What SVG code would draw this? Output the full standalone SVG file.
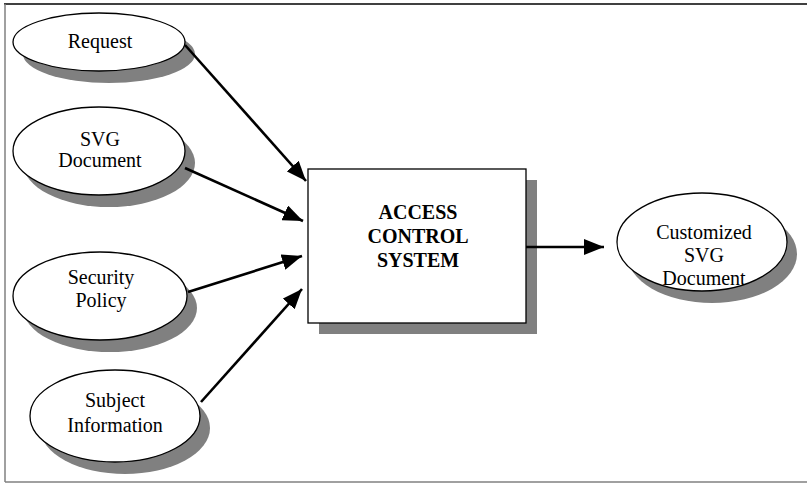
<svg xmlns="http://www.w3.org/2000/svg" width="807" height="483" viewBox="0 0 807 483">
  <defs>
    <style>
      .shadow { fill: #808080; stroke: none; }
      .node { fill: #ffffff; stroke: #000000; stroke-width: 1.3; }
      .label { font-family: "Liberation Serif", "Times New Roman", serif; font-size: 20px; fill: #000000; text-anchor: middle; }
      .bold { font-weight: bold; }
      .edge { stroke: #000000; stroke-width: 2.6; fill: none; marker-end: url(#arrow); }
    </style>
    <marker id="arrow" viewBox="0 0 20 16" refX="20" refY="8" markerWidth="20" markerHeight="16" markerUnits="userSpaceOnUse" orient="auto">
      <path d="M0,0 L20,8 L0,16 Z" fill="#000000"/>
    </marker>
  </defs>

  <rect x="0" y="0" width="807" height="483" fill="#ffffff"/>

  <!-- frame -->
  <g id="frame">
    <line x1="4" y1="4" x2="807" y2="4" stroke="#000000" stroke-width="1.5"/>
    <line x1="5" y1="4" x2="5" y2="482" stroke="#808080" stroke-width="1.5"/>
    <line x1="5" y1="482" x2="807" y2="482" stroke="#808080" stroke-width="1.5"/>
  </g>

  <!-- inputs -->
  <g id="request">
    <ellipse class="shadow" cx="109" cy="54" rx="86" ry="29"/>
    <ellipse class="node" cx="99" cy="42" rx="86" ry="29"/>
    <text class="label" x="100" y="48">Request</text>
  </g>

  <g id="svg-document">
    <ellipse class="shadow" cx="109" cy="163" rx="86" ry="44"/>
    <ellipse class="node" cx="99" cy="151" rx="86" ry="44"/>
    <text class="label" x="100" y="146">SVG</text>
    <text class="label" x="100" y="167">Document</text>
  </g>

  <g id="security-policy">
    <ellipse class="shadow" cx="110" cy="308" rx="87" ry="44"/>
    <ellipse class="node" cx="100" cy="296" rx="87" ry="44"/>
    <text class="label" x="101" y="284">Security</text>
    <text class="label" x="101" y="307">Policy</text>
  </g>

  <g id="subject-information">
    <ellipse class="shadow" cx="125" cy="428" rx="85" ry="46"/>
    <ellipse class="node" cx="115" cy="416" rx="85" ry="46"/>
    <text class="label" x="115" y="407">Subject</text>
    <text class="label" x="115" y="432">Information</text>
  </g>

  <!-- core system -->
  <g id="access-control-system">
    <rect class="shadow" x="319" y="180" width="218" height="154"/>
    <rect class="node" x="308" y="169" width="218" height="154"/>
    <text class="label bold" x="418" y="219">ACCESS</text>
    <text class="label bold" x="418" y="243">CONTROL</text>
    <text class="label bold" x="418" y="267">SYSTEM</text>
  </g>

  <!-- output -->
  <g id="customized-svg-document">
    <ellipse class="shadow" cx="712" cy="254" rx="85" ry="49"/>
    <ellipse class="node" cx="702" cy="242" rx="85" ry="49"/>
    <text class="label" x="704" y="239">Customized</text>
    <text class="label" x="704" y="262">SVG</text>
    <text class="label" x="704" y="285">Document</text>
  </g>

  <!-- connectors -->
  <g id="connectors">
    <line class="edge" x1="185" y1="45" x2="306" y2="181"/>
    <line class="edge" x1="185" y1="168" x2="303" y2="221"/>
    <line class="edge" x1="188" y1="292" x2="302" y2="256"/>
    <line class="edge" x1="201" y1="402" x2="302" y2="289"/>
    <line class="edge" x1="526" y1="247" x2="604" y2="247"/>
  </g>
</svg>
